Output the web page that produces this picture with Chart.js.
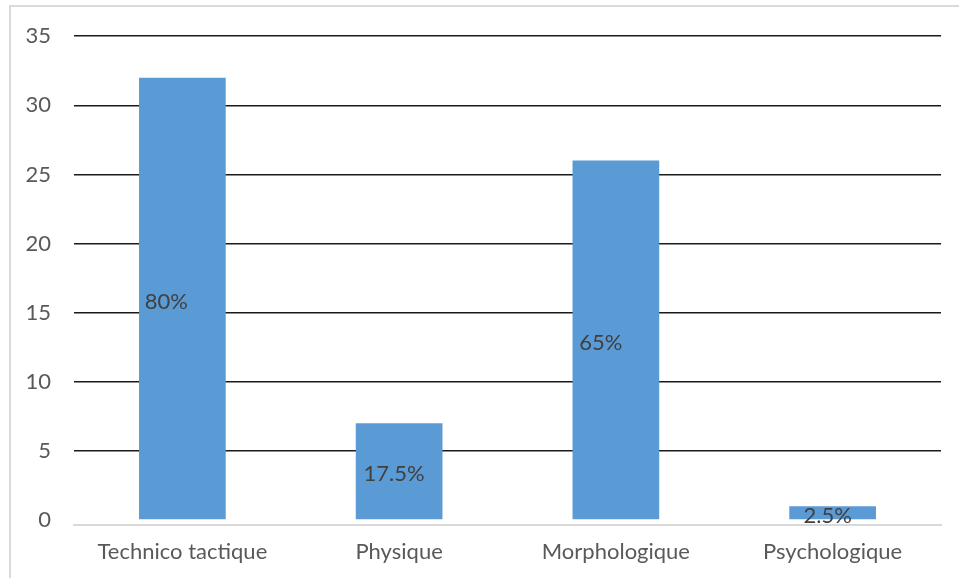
<!DOCTYPE html>
<html>
<head>
  <meta charset="utf-8">
  <title>Facteurs</title>
  <script src="https://cdn.jsdelivr.net/npm/chart.js@4/dist/chart.umd.min.js"></script>
  <style>
    body { margin: 0; background: #fff; }
    #frame {
      position: absolute; left: 9px; top: 5px; width: 960px; height: 580px;
      border-left: 2px solid #d9d9d9; border-top: 2px solid #d9d9d9;
    }
    #wrap { position: absolute; left: 0; top: 0; width: 959px; height: 578px; }
  </style>
</head>
<body>
  <div id="frame"></div>
  <div id="wrap"><canvas id="bars"></canvas></div>
  <script>
    var categories = ['Technico tactique', 'Physique', 'Morphologique', 'Psychologique'];
    var counts = [32, 7, 26, 1];
    var total = 40;
    var yTicks = [0, 5, 10, 15, 20, 25, 30, 35];

    var fontFamily = 'Lato, "Open Sans", sans-serif';

    function pct(v) {
      return (Math.round(v * 1000 / total) / 10) + '%';
    }

    // percentage written inside each bar
    var barText = {
      id: 'barText',
      afterDatasetsDraw(chart, args, opts) {
        var ctx = chart.ctx;
        var meta = chart.getDatasetMeta(0);
        ctx.save();
        ctx.font = '22px ' + fontFamily;
        ctx.fillStyle = '#404040';
        ctx.textAlign = 'center';
        ctx.textBaseline = 'middle';
        meta.data.forEach(function (bar, i) {
          var x = bar.x + opts.shift[i];
          var y = (bar.y + bar.base) / 2 + 3;
          ctx.fillText(pct(counts[i]), x, y);
        });
        ctx.restore();
      }
    };

    var ctx = document.getElementById('bars').getContext('2d');
    new Chart(ctx, {
      type: 'bar',
      data: {
        labels: categories,
        datasets: [{
          data: counts,
          backgroundColor: '#5b9bd5',
          categoryPercentage: 1,
          barPercentage: 0.4
        }]
      },
      options: {
        responsive: true,
        maintainAspectRatio: false,
        animation: false,
        layout: { padding: { top: 35, right: 18, left: 0, bottom: 0 } },
        plugins: {
          legend: { display: false },
          tooltip: { enabled: false },
          barText: { shift: [-16, -5, -15, -5] }
        },
        scales: {
          x: {
            grid: { display: false, drawTicks: false },
            border: { display: true, color: '#d9d9d9', width: 2 },
            ticks: {
              color: '#595959',
              padding: 14,
              font: { family: fontFamily, size: 22 }
            },
            afterFit(scale) { scale.height = 53; }
          },
          y: {
            min: -0.36,
            max: 35,
            afterBuildTicks(scale) {
              scale.ticks = yTicks.map(function (v) { return { value: v }; });
            },
            grid: {
              // no dark rule at zero, the grey baseline sits just below it
              color: function (c) { return c.tick && c.tick.value === 0 ? 'rgba(0,0,0,0)' : '#1a1a1a'; },
              lineWidth: 1.5,
              drawTicks: false
            },
            border: { display: false },
            ticks: {
              color: '#595959',
              padding: 23,
              font: { family: fontFamily, size: 22 }
            },
            afterFit(scale) { scale.width = 74; }
          }
        }
      },
      plugins: [barText]
    });
  </script>
</body>
</html>
